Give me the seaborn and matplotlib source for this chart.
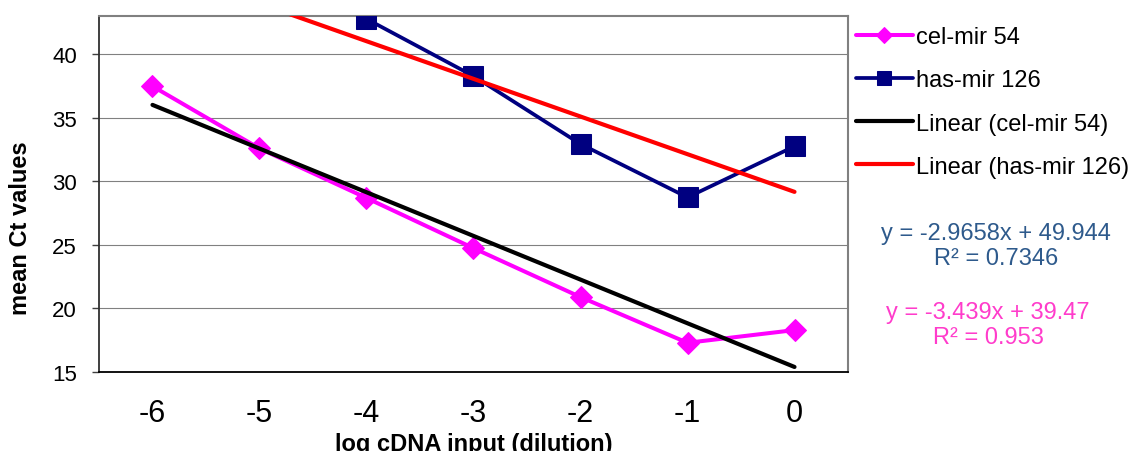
import numpy as np
import pandas as pd
import matplotlib
matplotlib.use("Agg")
import matplotlib.pyplot as plt
import seaborn as sns

# Dilution series (log cDNA input) and mean Ct values per miRNA
dilution = [-6, -5, -4, -3, -2, -1, 0]
cel_mir_54 = [37.5, 32.6, 28.7, 24.75, 20.9, 17.3, 18.3]
has_mir_126 = [np.nan, np.nan, 42.8, 38.3, 32.95, 28.75, 32.77]

# Linear trendline coefficients (x = category ordinal 1..7)
cel_slope, cel_intercept, cel_r2 = -3.439, 39.47, 0.953
has_slope, has_intercept, has_r2 = -2.9658, 49.944, 0.7346

series_names = ["cel-mir 54", "has-mir 126",
                "Linear (cel-mir 54)", "Linear (has-mir 126)"]
y_ticks = [15, 20, 25, 30, 35, 40]

sns.set_style("white")
plt.rcParams["font.family"] = ["Liberation Sans", "DejaVu Sans"]
plt.rcParams.update({"text.color": "black", "axes.labelcolor": "black",
                     "xtick.labelcolor": "black", "ytick.labelcolor": "black"})

fig = plt.figure(figsize=(11.35, 4.52), dpi=100)
ax = fig.add_axes([99 / 1135, 1 - 373 / 452, (848 - 99) / 1135, (373 - 17) / 452])

df = pd.DataFrame({"x": dilution, "cel": cel_mir_54, "has": has_mir_126})
ordinal = np.arange(1, len(dilution) + 1)
df["cel_fit"] = cel_slope * ordinal + cel_intercept
df["has_fit"] = has_slope * ordinal + has_intercept

sns.lineplot(data=df, x="x", y="cel", ax=ax, color="#FF00FF", lw=2.9,
             marker="D", markersize=11, markeredgecolor="#FF00FF",
             label=series_names[0], zorder=3)
sns.lineplot(data=df.dropna(subset=["has"]), x="x", y="has", ax=ax,
             color="#000080", lw=2.7, marker="s", markersize=14,
             markeredgecolor="#000080", label=series_names[1], zorder=3)
sns.lineplot(data=df, x="x", y="cel_fit", ax=ax, color="black", lw=3.0,
             label=series_names[2], zorder=4, solid_capstyle="round")
sns.lineplot(data=df, x="x", y="has_fit", ax=ax, color="#FF0000", lw=3.0,
             label=series_names[3], zorder=4, solid_capstyle="round")

ax.set_xlim(-6.5, 0.5)
ax.set_ylim(15, 43.03)

# Category-style x axis: labels centred, tick marks on boundaries
ax.set_xticks(dilution)
ax.set_xticklabels([str(v) for v in dilution], fontsize=22)
ax.set_xticks(np.arange(-6.5, 1.0, 1.0), minor=True)
ax.tick_params(axis="x", which="major", length=0, pad=19)
ax.tick_params(axis="x", which="minor", length=6, width=1.0,
               color="#808080", direction="out")
ax.set_yticks(y_ticks)
ax.set_yticklabels([str(v) for v in y_ticks], fontsize=16)
ax.tick_params(axis="y", which="major", length=5, width=1.0,
               color="#404040", direction="out", pad=11, left=True)

ax.yaxis.grid(True, color="#808080", lw=0.8)
ax.xaxis.grid(False)
ax.set_axisbelow(True)

for side in ["top", "right"]:
    ax.spines[side].set_color("#808080")
    ax.spines[side].set_linewidth(1.5)
ax.spines["left"].set_color("#303030")
ax.spines["left"].set_linewidth(1.3)
ax.spines["bottom"].set_color("black")
ax.spines["bottom"].set_linewidth(1.3)

ax.set_xlabel("log cDNA input (dilution)", fontsize=17, fontweight="bold")
ax.set_ylabel("mean Ct values", fontsize=17, fontweight="bold")
ax.xaxis.set_label_coords(0.5, -0.168)
ax.yaxis.set_label_coords(-0.090, 0.406)

handles, labels = ax.get_legend_handles_labels()
ax.legend(handles, labels, loc="upper left", bbox_to_anchor=(856 / 1135, 1 - 27 / 452),
          bbox_transform=fig.transFigure, frameon=False, fontsize=17,
          handlelength=2.4, handletextpad=0.15, labelspacing=0.9,
          markerscale=0.72, borderaxespad=0, borderpad=0)

fig.text(996 / 1135, 1 - 234 / 452, f"y = {has_slope}x + {has_intercept}",
         color="#2E5A8C", fontsize=17, ha="center", va="center")
fig.text(996 / 1135, 1 - 259 / 452, f"R² = {has_r2}",
         color="#2E5A8C", fontsize=17, ha="center", va="center")
fig.text(988 / 1135, 1 - 313 / 452, f"y = {cel_slope}x + {cel_intercept}",
         color="#FF3CCB", fontsize=17, ha="center", va="center")
fig.text(988 / 1135, 1 - 338 / 452, f"R² = {cel_r2}",
         color="#FF3CCB", fontsize=17, ha="center", va="center")

fig.savefig("out.png", dpi=100)
